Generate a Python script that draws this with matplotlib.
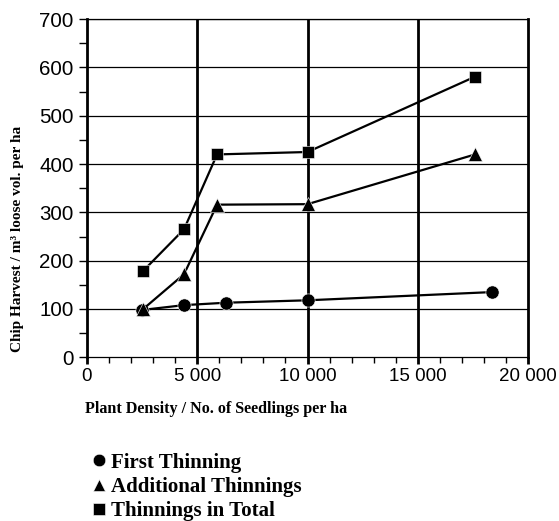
import matplotlib
matplotlib.use("Agg")
import matplotlib.pyplot as plt
from matplotlib.ticker import MultipleLocator, FuncFormatter

# Data
density_first = [2500, 4400, 6300, 10000, 18350]
first_thinning = [98, 108, 113, 118, 135]
density_add = [2550, 4400, 5900, 10000, 17600]
additional_thinnings = [100, 172, 316, 317, 420]
density_total = [2550, 4400, 5900, 10000, 17600]
thinnings_total = [179, 265, 420, 425, 581]

labels = ["First Thinning", "Additional Thinnings", "Thinnings in Total"]

fig = plt.figure(figsize=(5.59, 5.21), dpi=100)
ax = fig.add_axes([0.1556, 0.3142, 0.789, 0.649])

ax.set_xlim(0, 20000)
ax.set_ylim(0, 700)

# grid
for y in range(100, 701, 100):
    ax.axhline(y, color="black", lw=0.9, zorder=1)
for x in [5000, 10000, 15000]:
    ax.axvline(x, color="black", lw=2.0, zorder=1)

for s in ["left", "right"]:
    ax.spines[s].set_linewidth(2.0)
for s in ["top", "bottom"]:
    ax.spines[s].set_linewidth(0.9)

ax.plot(density_first, first_thinning, color="black", lw=1.6, marker="o",
        ms=9.5, mec="white", mew=0.4, zorder=3, label=labels[0])
ax.plot(density_add, additional_thinnings, color="black", lw=1.6, marker="^",
        ms=9.5, mec="white", mew=0.4, zorder=4, label=labels[1])
ax.plot(density_total, thinnings_total, color="black", lw=1.6, marker="s",
        ms=9, mec="white", mew=0.4, zorder=5, label=labels[2])

ax.xaxis.set_major_locator(MultipleLocator(5000))
ax.xaxis.set_minor_locator(MultipleLocator(1000))
ax.yaxis.set_major_locator(MultipleLocator(100))
ax.yaxis.set_minor_locator(MultipleLocator(50))
ax.xaxis.set_major_formatter(FuncFormatter(lambda v, p: f"{int(v):,}".replace(",", " ")))
ax.tick_params(which="both", direction="out", color="black", width=1.0)
ax.tick_params(axis="y", which="both", length=6)
ax.tick_params(axis="y", which="major", labelsize=14.8, pad=3.5)
ax.tick_params(axis="x", which="minor", length=4.5)
ax.tick_params(axis="x", which="major", width=2.0, length=5, labelsize=13.5, pad=2.5)
for lab in ax.get_xticklabels() + ax.get_yticklabels():
    lab.set_family("Liberation Sans")

ax.set_xlabel("Plant Density / No. of Seedlings per ha", family="Liberation Serif",
              fontweight="bold", fontsize=11.6)
ax.xaxis.set_label_coords(-0.005, -0.13)
ax.xaxis.label.set_horizontalalignment("left")
ax.set_ylabel("Chip Harvest / m³ loose vol. per ha", family="Liberation Serif",
              fontweight="bold", fontsize=11)
ax.yaxis.set_label_coords(-0.143, 0.35)

leg = fig.legend(loc="upper left", bbox_to_anchor=(0.151, 0.147), frameon=False,
                 handlelength=0.6, handletextpad=0.3, labelspacing=0.2,
                 borderaxespad=0.0,
                 prop={"family": "Liberation Serif", "weight": "bold", "size": 15})
for h in leg.legend_handles:
    h.set_linestyle("none")
    h.set_markersize(9)

fig.savefig("out.png", dpi=100)
